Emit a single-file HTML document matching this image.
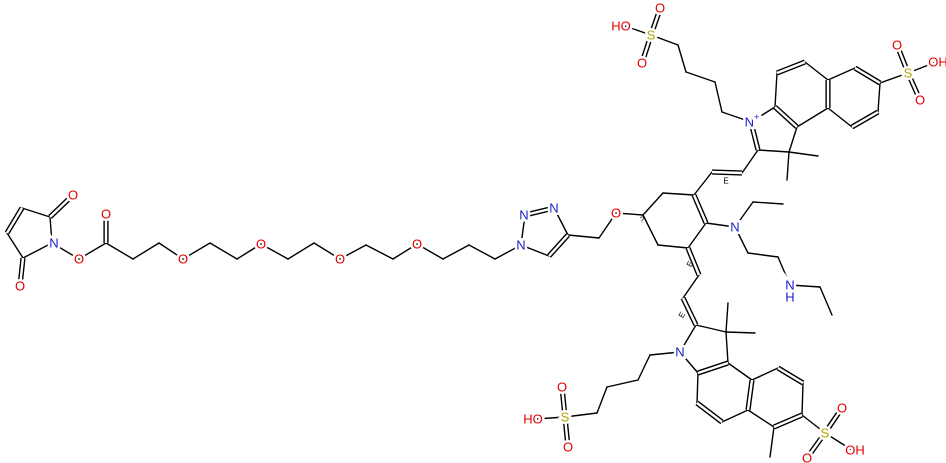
<!DOCTYPE html>
<html><head><meta charset="utf-8"><style>
html,body{margin:0;padding:0;background:#fff;}
svg{display:block}
.b line{stroke:#000;stroke-width:1.4;stroke-linecap:round}
.d1 line{stroke:#000;stroke-width:5.2}
.d2 line{stroke:#fff;stroke-width:2.4}
text{font-family:"Liberation Sans",sans-serif;font-size:13px;text-anchor:middle;dominant-baseline:central;paint-order:stroke;stroke:#fff;stroke-width:5px;}
.O{fill:#e00000}.N{fill:#1c1ccc}.S{fill:#b3a400}
.sm{font-size:8px;fill:#000;stroke-width:0}
</style></head><body>
<svg width="946" height="463" viewBox="0 0 946 463" xmlns="http://www.w3.org/2000/svg">
<g class="b">
<!-- maleimide -->
<line x1="50" y1="217" x2="22" y2="208"/><line x1="7" y1="233" x2="23" y2="258"/>
<line x1="23" y1="258" x2="52" y2="243"/><line x1="52" y1="243" x2="50" y2="217"/>
<line x1="52" y1="243" x2="79" y2="259"/>
<!-- chain -->
<line x1="79" y1="259" x2="106" y2="243"/><line x1="106" y1="243" x2="133" y2="259"/>
<line x1="133" y1="259" x2="159" y2="243"/><line x1="159" y1="243" x2="183" y2="259"/>
<line x1="183" y1="259" x2="210" y2="243"/><line x1="210" y1="243" x2="237" y2="259"/>
<line x1="237" y1="259" x2="261" y2="244"/><line x1="261" y1="244" x2="288" y2="259"/>
<line x1="288" y1="259" x2="314" y2="243"/><line x1="314" y1="243" x2="340" y2="259"/>
<line x1="340" y1="259" x2="366" y2="245"/><line x1="366" y1="245" x2="393" y2="259"/>
<line x1="393" y1="259" x2="417" y2="244"/><line x1="417" y1="244" x2="443" y2="259"/>
<line x1="443" y1="259" x2="469" y2="245"/><line x1="469" y1="245" x2="495" y2="259"/>
<line x1="495" y1="259" x2="521" y2="245"/>
<!-- triazole -->
<line x1="521" y1="245" x2="525" y2="215"/><line x1="554" y1="208" x2="568" y2="235"/>
<line x1="549" y1="256" x2="521" y2="245"/>
<line x1="568" y1="235" x2="599" y2="238"/><line x1="599" y1="238" x2="616" y2="213"/>
<line x1="616" y1="213" x2="643" y2="215"/>
<!-- cyclohexene -->
<line x1="643" y1="215" x2="663" y2="193"/><line x1="663" y1="193" x2="694" y2="195"/>
<line x1="706" y1="223" x2="688" y2="248"/><line x1="688" y1="248" x2="658" y2="245"/>
<line x1="658" y1="245" x2="643" y2="215"/>
<!-- upper -->
<line x1="694" y1="195" x2="712" y2="172"/><line x1="742" y1="173" x2="758" y2="150"/>
<line x1="751" y1="122" x2="775" y2="107"/><line x1="797" y1="127" x2="789" y2="152"/>
<line x1="789" y1="152" x2="758" y2="150"/><line x1="789" y1="152" x2="818" y2="156"/>
<line x1="789" y1="152" x2="787" y2="180"/><line x1="775" y1="107" x2="777" y2="73"/>
<line x1="805" y1="62" x2="828" y2="80"/><line x1="828" y1="108" x2="797" y2="127"/>
<line x1="828" y1="80" x2="855" y2="68"/><line x1="880" y1="83" x2="878" y2="112"/>
<line x1="852" y1="127" x2="828" y2="108"/><line x1="880" y1="83" x2="908" y2="73"/>
<line x1="908" y1="73" x2="936" y2="62"/>
<line x1="751" y1="122" x2="722" y2="112"/><line x1="722" y1="112" x2="715" y2="82"/>
<line x1="715" y1="82" x2="686" y2="72"/><line x1="686" y1="72" x2="678" y2="45"/>
<line x1="678" y1="45" x2="651" y2="35"/><line x1="651" y1="35" x2="625" y2="26"/>
<!-- amine -->
<line x1="706" y1="223" x2="735" y2="227"/><line x1="735" y1="227" x2="753" y2="202"/>
<line x1="753" y1="202" x2="783" y2="204"/><line x1="735" y1="227" x2="748" y2="253"/>
<line x1="748" y1="253" x2="778" y2="257"/><line x1="778" y1="257" x2="790" y2="285"/>
<line x1="790" y1="285" x2="820" y2="287"/><line x1="820" y1="287" x2="832" y2="315"/>
<!-- lower -->
<line x1="699" y1="275" x2="683" y2="298"/><line x1="696" y1="325" x2="680" y2="352"/>
<line x1="696" y1="325" x2="726" y2="332"/><line x1="726" y1="332" x2="728" y2="303"/>
<line x1="726" y1="332" x2="755" y2="333"/><line x1="726" y1="332" x2="728" y2="363"/>
<line x1="698" y1="373" x2="680" y2="352"/><line x1="698" y1="373" x2="697" y2="403"/>
<line x1="722" y1="422" x2="748" y2="410"/><line x1="752" y1="380" x2="728" y2="363"/>
<line x1="752" y1="380" x2="778" y2="368"/><line x1="803" y1="383" x2="802" y2="415"/>
<line x1="774" y1="427" x2="748" y2="410"/><line x1="774" y1="427" x2="770" y2="457"/>
<line x1="802" y1="415" x2="825" y2="433"/><line x1="825" y1="433" x2="852" y2="450"/>
<line x1="680" y1="352" x2="650" y2="355"/><line x1="650" y1="355" x2="638" y2="380"/>
<line x1="638" y1="380" x2="607" y2="387"/><line x1="607" y1="387" x2="597" y2="413"/>
<line x1="597" y1="413" x2="565" y2="417"/><line x1="565" y1="417" x2="536" y2="419"/>
</g>
<g id="dbl">
<g class="d1">
<line x1="22" y1="208" x2="7" y2="233"/><line x1="50" y1="217" x2="73" y2="195"/>
<line x1="23" y1="258" x2="20" y2="286"/><line x1="106" y1="243" x2="106" y2="215"/>
<line x1="525" y1="215" x2="554" y2="208"/><line x1="568" y1="235" x2="549" y2="256"/>
<line x1="694" y1="195" x2="706" y2="223"/><line x1="712" y1="172" x2="742" y2="173"/>
<line x1="758" y1="150" x2="751" y2="122"/><line x1="775" y1="107" x2="797" y2="127"/>
<line x1="777" y1="73" x2="805" y2="62"/><line x1="828" y1="80" x2="828" y2="108"/>
<line x1="855" y1="68" x2="880" y2="83"/><line x1="878" y1="112" x2="852" y2="127"/>
<line x1="908" y1="73" x2="897" y2="45"/><line x1="908" y1="73" x2="920" y2="100"/>
<line x1="651" y1="35" x2="660" y2="9"/><line x1="651" y1="35" x2="642" y2="63"/>
<line x1="688" y1="248" x2="699" y2="275"/><line x1="683" y1="298" x2="696" y2="325"/>
<line x1="728" y1="363" x2="698" y2="373"/><line x1="697" y1="403" x2="722" y2="422"/>
<line x1="748" y1="410" x2="752" y2="380"/><line x1="778" y1="368" x2="803" y2="383"/>
<line x1="802" y1="415" x2="774" y2="427"/><line x1="825" y1="433" x2="842" y2="408"/>
<line x1="825" y1="433" x2="807" y2="458"/><line x1="565" y1="417" x2="562" y2="387"/>
<line x1="565" y1="417" x2="568" y2="447"/>
</g>
<g class="d2">
<line x1="22" y1="208" x2="7" y2="233"/><line x1="50" y1="217" x2="73" y2="195"/>
<line x1="23" y1="258" x2="20" y2="286"/><line x1="106" y1="243" x2="106" y2="215"/>
<line x1="525" y1="215" x2="554" y2="208"/><line x1="568" y1="235" x2="549" y2="256"/>
<line x1="694" y1="195" x2="706" y2="223"/><line x1="712" y1="172" x2="742" y2="173"/>
<line x1="758" y1="150" x2="751" y2="122"/><line x1="775" y1="107" x2="797" y2="127"/>
<line x1="777" y1="73" x2="805" y2="62"/><line x1="828" y1="80" x2="828" y2="108"/>
<line x1="855" y1="68" x2="880" y2="83"/><line x1="878" y1="112" x2="852" y2="127"/>
<line x1="908" y1="73" x2="897" y2="45"/><line x1="908" y1="73" x2="920" y2="100"/>
<line x1="651" y1="35" x2="660" y2="9"/><line x1="651" y1="35" x2="642" y2="63"/>
<line x1="688" y1="248" x2="699" y2="275"/><line x1="683" y1="298" x2="696" y2="325"/>
<line x1="728" y1="363" x2="698" y2="373"/><line x1="697" y1="403" x2="722" y2="422"/>
<line x1="748" y1="410" x2="752" y2="380"/><line x1="778" y1="368" x2="803" y2="383"/>
<line x1="802" y1="415" x2="774" y2="427"/><line x1="825" y1="433" x2="842" y2="408"/>
<line x1="825" y1="433" x2="807" y2="458"/><line x1="565" y1="417" x2="562" y2="387"/>
<line x1="565" y1="417" x2="568" y2="447"/>
</g>
</g>
<!-- labels -->
<text x="73" y="195" class="O">O</text>
<text x="20" y="286" class="O">O</text>
<text x="54" y="243" class="N">N</text>
<text x="79" y="259" class="O">O</text>
<text x="106" y="214" class="O">O</text>
<text x="183" y="259" class="O">O</text>
<text x="261" y="244" class="O">O</text>
<text x="340" y="259" class="O">O</text>
<text x="417" y="244" class="O">O</text>
<text x="521" y="245" class="N">N</text>
<text x="524" y="215" class="N">N</text>
<text x="554" y="208" class="N">N</text>
<text x="616" y="213" class="O">O</text>
<text x="752" y="122" class="N">N<tspan dy="-5" font-size="9">+</tspan></text>
<text x="908" y="73" class="S">S</text>
<text x="897" y="45" class="O">O</text>
<text x="920" y="100" class="O">O</text>
<text x="938" y="62" class="O">OH</text>
<text x="651" y="35" class="S">S</text>
<text x="660" y="8" class="O">O</text>
<text x="642" y="63" class="O">O</text>
<text x="621" y="26" class="O">HO</text>
<text x="735" y="227" class="N">N</text>
<text x="790" y="285" class="N">N</text>
<text x="790" y="297" class="N">H</text>
<text x="680" y="352" class="N">N</text>
<text x="825" y="433" class="S">S</text>
<text x="842" y="408" class="O">O</text>
<text x="807" y="458" class="O">O</text>
<text x="855" y="450" class="O">OH</text>
<text x="565" y="417" class="S">S</text>
<text x="562" y="387" class="O">O</text>
<text x="568" y="447" class="O">O</text>
<text x="533" y="419" class="O">HO</text>
<text x="642" y="220" class="sm">?</text>
<text x="726" y="181" class="sm">E</text>
<text x="690" y="264" class="sm" transform="rotate(-60 690 264)">E</text>
<text x="682" y="315" class="sm" transform="rotate(-60 682 315)">E</text>
</svg>
</body></html>
